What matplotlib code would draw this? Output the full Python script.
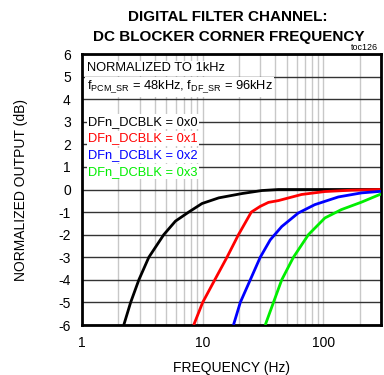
import numpy as np
import matplotlib
matplotlib.use("Agg")
import matplotlib.pyplot as plt
from matplotlib.ticker import FixedLocator, NullFormatter

plt.rcParams['font.family'] = ['Liberation Sans', 'DejaVu Sans']

# Data (frequency Hz, output dB)
f_0x0 = [2.22, 2.53, 2.96, 3.58, 4.76, 5.95, 7.66, 9.88, 13.6, 21.1, 31, 42.5, 100, 300]
db_0x0 = [-6, -5, -4, -3, -2, -1.4, -1, -0.62, -0.37, -0.18, -0.045, 0, 0, 0]
f_0x1 = [8.43, 10.0, 12.6, 15.9, 19.8, 25.3, 29.9, 35.1, 42.5, 66, 103, 171, 297]
db_0x1 = [-6, -5, -4, -3, -2, -1, -0.75, -0.57, -0.49, -0.22, -0.09, -0.03, 0]
f_0x2 = [18.0, 20.5, 24.8, 30, 36.3, 45.2, 62, 85, 133, 207, 300]
db_0x2 = [-6, -5, -4, -3, -2.23, -1.64, -1.04, -0.67, -0.33, -0.15, -0.08]
f_0x3 = [33, 38.6, 45.2, 56.5, 75.2, 103, 141, 207, 300]
db_0x3 = [-6, -5, -4, -3, -2, -1.26, -0.89, -0.56, -0.2]

series = [
    ("DFn_DCBLK = 0x0", f_0x0, db_0x0, "black"),
    ("DFn_DCBLK = 0x1", f_0x1, db_0x1, "#ff0000"),
    ("DFn_DCBLK = 0x2", f_0x2, db_0x2, "#0000ff"),
    ("DFn_DCBLK = 0x3", f_0x3, db_0x3, "#00ee00"),
]

x_ticks = [1, 10, 100]
x_ticklabels = ["1", "10", "100"]
y_ticks = list(range(-6, 7))

fig = plt.figure(figsize=(3.84, 3.75), dpi=100)
ax = fig.add_axes([0.2135, 0.1333, 0.7785, 0.7227])
ax.set_xscale('log')
ax.set_xlim(1, 300)
ax.set_ylim(-6, 6)

# grid
minor = [m * d for d in (1, 10, 100) for m in range(2, 10) if m * d < 300]
for x in minor:
    ax.axvline(x, color='#c8c8c8', lw=1.0, zorder=1)
for x in (10, 100):
    ax.axvline(x, color='#c8c8c8', lw=1.0, zorder=1)
for y in y_ticks:
    ax.axhline(y, color='#333333', lw=1.0, zorder=1)

for label, f, d, c in series:
    ax.plot(f, d, color=c, lw=2.0, zorder=3, solid_capstyle='butt', solid_joinstyle='round')

ax.xaxis.set_major_locator(FixedLocator(x_ticks))
ax.set_xticklabels(x_ticklabels)
ax.xaxis.set_minor_locator(FixedLocator([]))
ax.xaxis.set_minor_formatter(NullFormatter())
ax.set_yticks(y_ticks)
ax.set_yticklabels([str(v) for v in y_ticks])
ax.tick_params(length=0, labelsize=10, pad=8)
for s in ax.spines.values():
    s.set_linewidth(2)

ax.set_xlabel("FREQUENCY (Hz)", fontsize=10, labelpad=8)
ax.set_ylabel("NORMALIZED OUTPUT (dB)", fontsize=10, labelpad=22)

fig.text(0.594, 0.955, "DIGITAL FILTER CHANNEL:", ha='center', va='center',
         fontsize=11, fontweight='bold')
fig.text(0.596, 0.901, "DC BLOCKER CORNER FREQUENCY", ha='center', va='center',
         fontsize=11, fontweight='bold')
fig.text(0.985, 0.860, "toc126", ha='right', va='bottom', fontsize=6.5)

bbox = dict(facecolor='white', edgecolor='none', pad=1.0)
ax.text(0.016, 0.947, "NORMALIZED TO 1kHz", transform=ax.transAxes, fontsize=9.3,
        va='center', ha='left', bbox=bbox, zorder=5)
ax.text(0.016, 0.878, r"f$_{\mathregular{PCM\_SR}}$ = 48kHz, f$_{\mathregular{DF\_SR}}$ = 96kHz",
        transform=ax.transAxes, fontsize=9.3, va='center', ha='left', bbox=bbox, zorder=5)
ys = [0.750, 0.689, 0.627, 0.566]
for (label, f, d, c), yy in zip(series, ys):
    ax.text(0.021, yy, label, transform=ax.transAxes, fontsize=9.3, color=c,
            va='center', ha='left', bbox=bbox, zorder=5)

fig.savefig("out.png", dpi=100)
